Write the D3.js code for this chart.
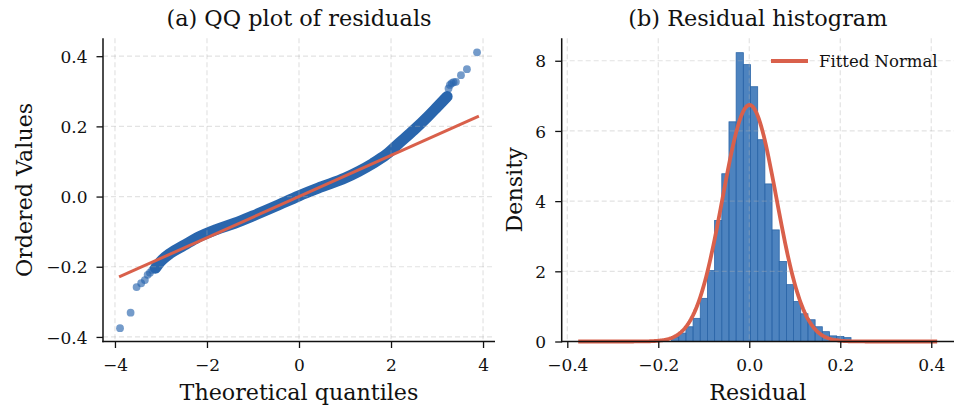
<!DOCTYPE html>
<html>
<head>
<meta charset="utf-8">
<script src="https://cdn.jsdelivr.net/npm/d3@7"></script>
<style>
  body { margin: 0; background: #fff; }
  svg text { font-family: "DejaVu Serif", serif; fill: #111; }
</style>
</head>
<body>
<script>
// (a) QQ plot -- dense part of the ordered residuals, read along the band
var qqBandQ = [-3.12, -3.0, -2.8, -2.5, -2.2, -1.8, -1.4, -1.0, -0.5, 0.0, 0.5, 1.0, 1.3, 1.6, 1.9, 2.2, 2.5, 2.8, 3.0, 3.22];
var qqBandV = [-0.204, -0.184, -0.162, -0.139, -0.116, -0.094, -0.076, -0.055, -0.027, 0.002, 0.028, 0.053, 0.072, 0.094, 0.120, 0.155, 0.190, 0.228, 0.255, 0.285];
// isolated points in both tails
var qqTailQ = [-3.89, -3.66, -3.53, -3.43, -3.35, -3.29, -3.24, -3.19, 3.25, 3.28, 3.32, 3.36, 3.41, 3.52, 3.65, 3.87];
var qqTailV = [-0.375, -0.331, -0.258, -0.247, -0.238, -0.223, -0.217, -0.209, 0.308, 0.318, 0.323, 0.326, 0.327, 0.346, 0.363, 0.411];
// fitted reference line (end points)
var qqLineQ = [-3.91, 3.91];
var qqLineV = [-0.229, 0.229];
var qqXTicks = [-4, -2, 0, 2, 4];
var qqYTicks = [-0.4, -0.2, 0.0, 0.2, 0.4];

// (b) histogram -- 50 bins starting at the smallest residual
var histStart = -0.376;
var histWidth = 0.01578;
var histDensity = [
  0, 0, 0, 0, 0, 0, 0, 0, 0, 0,
  0, 0, 0, 0.13, 0.24, 0.42, 0.66, 1.23, 2.02, 3.45,
  4.78, 6.26, 8.23, 7.89, 7.26, 5.75, 4.49, 3.18, 2.28, 1.62,
  1.14, 0.79, 0.62, 0.42, 0.28, 0.16, 0.14, 0.11, 0, 0,
  0, 0, 0, 0, 0, 0, 0, 0, 0, 0
];
// fitted normal
var normMu = 0.0005;
var normSigma = 0.0592;
var normRange = [-0.376, 0.413];
var histXTicks = [-0.4, -0.2, 0.0, 0.2, 0.4];
var histYTicks = [0, 2, 4, 6, 8];

var W = 955, H = 406;
var RED = "#d9604b", BLUE = "#2a66ad";

var svg = d3.select("body").append("svg")
    .attr("width", W).attr("height", H);

var top_ = 38.3, bottom = 341.5;

function panel(left, right, xDom, yDom, xTicks, yTicks, xFmt, yFmt, title, xLabel, yLabel, yLabelX) {
  var x = d3.scaleLinear().domain(xDom).range([left, right]);
  var y = d3.scaleLinear().domain(yDom).range([bottom, top_]);
  var g = svg.append("g");
  var layers = {
    under: g.append("g"),
    grid: g.append("g"),
    over: g.append("g"),
    axes: g.append("g")
  };

  layers.grid.selectAll("line.gx").data(xTicks).enter().append("line")
      .attr("x1", function (d) { return x(d); }).attr("x2", function (d) { return x(d); })
      .attr("y1", top_).attr("y2", bottom);
  layers.grid.selectAll("line.gy").data(yTicks).enter().append("line")
      .attr("y1", function (d) { return y(d); }).attr("y2", function (d) { return y(d); })
      .attr("x1", left).attr("x2", right);
  layers.grid.selectAll("line")
      .attr("stroke", "#b0b0b0").attr("stroke-opacity", 0.35)
      .attr("stroke-width", 1.2).attr("stroke-dasharray", "5,3");

  var xa = layers.axes.append("g").attr("transform", "translate(0," + bottom + ")")
      .call(d3.axisBottom(x).tickValues(xTicks).tickFormat(xFmt).tickSizeOuter(0).tickSize(6.5));
  xa.selectAll("text").attr("y", 29.5).attr("dy", 0).style("font-size", "17px");
  var ya = layers.axes.append("g").attr("transform", "translate(" + left + ",0)")
      .call(d3.axisLeft(y).tickValues(yTicks).tickFormat(yFmt).tickSizeOuter(0).tickSize(6.5));
  ya.selectAll("text").attr("x", -15.5).attr("dy", "0.36em").style("font-size", "17px");
  [xa, ya].forEach(function (a) {
    a.select(".domain").remove();
    a.selectAll(".tick line").attr("stroke", "#111").attr("stroke-width", 1.3);
  });
  layers.axes.append("line").attr("x1", left).attr("x2", left).attr("y1", top_).attr("y2", bottom + 0.75)
      .attr("stroke", "#111").attr("stroke-width", 1.5);
  layers.axes.append("line").attr("x1", left - 0.75).attr("x2", right).attr("y1", bottom).attr("y2", bottom)
      .attr("stroke", "#111").attr("stroke-width", 1.5);

  svg.append("text").attr("x", (left + right) / 2).attr("y", 25.5)
      .attr("text-anchor", "middle").style("font-size", "22.4px").text(title);
  svg.append("text").attr("x", (left + right) / 2).attr("y", 399.5)
      .attr("text-anchor", "middle").style("font-size", "22.2px").text(xLabel);
  svg.append("text").attr("transform", "translate(" + yLabelX + "," + ((top_ + bottom) / 2) + ") rotate(-90)")
      .attr("text-anchor", "middle").style("font-size", "22.2px").text(yLabel);

  return { x: x, y: y, layers: layers };
}

// ---- (a) QQ plot
var a = panel(103, 495, [-4.26, 4.26], [-0.413, 0.451], qqXTicks, qqYTicks,
    d3.format("d"), d3.format(".1f"), "(a) QQ plot of residuals", "Theoretical quantiles", "Ordered Values", 32);

var band = qqBandQ.map(function (q, i) { return [q, qqBandV[i]]; });
a.layers.under.append("path")
    .datum(band)
    .attr("d", d3.line().curve(d3.curveMonotoneX)
        .x(function (d) { return a.x(d[0]); })
        .y(function (d) { return a.y(d[1]); }))
    .attr("fill", "none").attr("stroke", BLUE)
    .attr("stroke-width", 11).attr("stroke-linecap", "round").attr("stroke-linejoin", "round");

a.layers.under.selectAll("circle.tail")
    .data(qqTailQ.map(function (q, i) { return [q, qqTailV[i]]; }))
    .enter().append("circle")
    .attr("cx", function (d) { return a.x(d[0]); })
    .attr("cy", function (d) { return a.y(d[1]); })
    .attr("r", 3.9).attr("fill", BLUE).attr("fill-opacity", 0.65);

a.layers.over.append("line")
    .attr("x1", a.x(qqLineQ[0])).attr("y1", a.y(qqLineV[0]))
    .attr("x2", a.x(qqLineQ[1])).attr("y2", a.y(qqLineV[1]))
    .attr("stroke", RED).attr("stroke-width", 3);

// ---- (b) histogram
var b = panel(561.7, 954, [-0.4123, 0.450], [0, 8.64], histXTicks, histYTicks,
    d3.format(".1f"), d3.format("d"), "(b) Residual histogram", "Residual", "Density", 521.5);

var bins = histDensity.map(function (d, k) {
  return { x0: histStart + k * histWidth, x1: histStart + (k + 1) * histWidth, d: d };
}).filter(function (bn) { return bn.d > 0; });

b.layers.under.selectAll("rect").data(bins).enter().append("rect")
    .attr("x", function (d) { return b.x(d.x0); })
    .attr("width", function (d) { return b.x(d.x1) - b.x(d.x0); })
    .attr("y", function (d) { return b.y(d.d); })
    .attr("height", function (d) { return b.y(0) - b.y(d.d); })
    .attr("fill", "#2e6db4").attr("fill-opacity", 0.85)
    .attr("stroke", "#2c66a8").attr("stroke-width", 0.8);

var normPts = d3.range(0, 301).map(function (i) {
  var xv = normRange[0] + (normRange[1] - normRange[0]) * i / 300;
  var z = (xv - normMu) / normSigma;
  return [xv, Math.exp(-0.5 * z * z) / (normSigma * Math.sqrt(2 * Math.PI))];
});
b.layers.over.append("path").datum(normPts)
    .attr("d", d3.line().x(function (d) { return b.x(d[0]); }).y(function (d) { return b.y(d[1]); }))
    .attr("fill", "none").attr("stroke", RED).attr("stroke-width", 3.8);

// legend
var lg = svg.append("g");
lg.append("line").attr("x1", 771).attr("x2", 808).attr("y1", 61).attr("y2", 61)
    .attr("stroke", RED).attr("stroke-width", 3.8);
lg.append("text").attr("x", 819).attr("y", 66.5).style("font-size", "16.5px").text("Fitted Normal");
</script>
</body>
</html>
